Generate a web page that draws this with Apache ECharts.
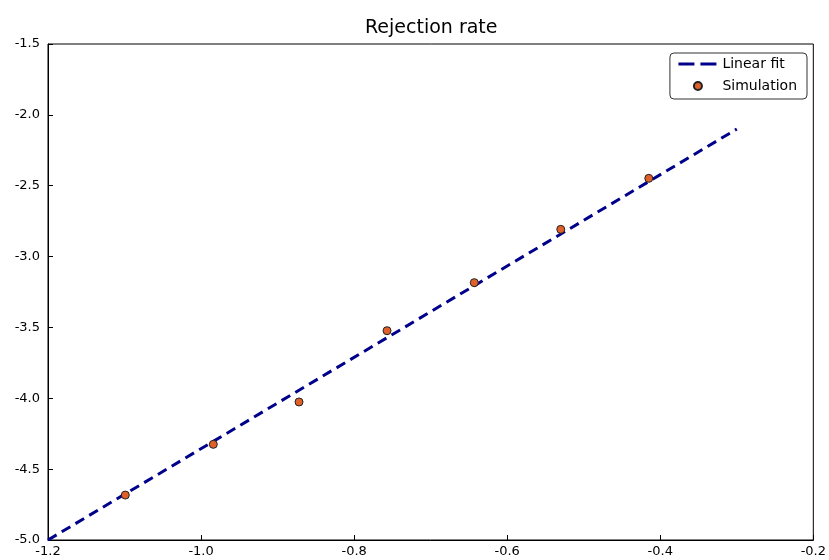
<!DOCTYPE html>
<html>
<head>
<meta charset="utf-8">
<script src="https://cdn.jsdelivr.net/npm/echarts@6/dist/echarts.min.js"></script>
<style>html,body{margin:0;padding:0;background:#fff;}#c{width:829px;height:560px;}</style>
</head>
<body>
<div id="c"></div>
<script>
const simX = [-1.099, -0.984, -0.872, -0.757, -0.643, -0.530, -0.415];
const simY = [-4.683, -4.325, -4.026, -3.523, -3.184, -2.808, -2.448];
const fitX = [-1.2, -0.3];
const fitY = [-5.0, -2.1];

const chart = echarts.init(document.getElementById('c'));
const font = 'DejaVu Sans';
chart.setOption({
  animation: false,
  backgroundColor: '#fff',
  textStyle: {fontFamily: font},
  title: {
    text: 'Rejection rate', left: 360, top: 14,
    textStyle: {fontFamily: font, fontSize: 19, fontWeight: 'normal', color: '#000'}
  },
  grid: {left: 48, right: 15, top: 44, bottom: 20, show: true, borderColor: '#000', borderWidth: 1},
  legend: {
    orient: 'vertical', right: 22, top: 53,
    borderColor: '#333', borderWidth: 1, borderRadius: 4,
    padding: [4, 10, 6, 7], itemGap: 8, itemWidth: 39, itemHeight: 8,
    textStyle: {fontFamily: font, fontSize: 14, color: '#000'},
    data: [
      {name: 'Linear fit', icon: 'inherit',
       itemStyle: {opacity: 0, color: 'transparent', borderColor: 'transparent', borderWidth: 0},
       lineStyle: {width: 3, color: '#00008B', type: [16, 6], opacity: 1}},
      {name: 'Simulation', icon: 'circle'}
    ]
  },
  xAxis: {
    type: 'value', min: -1.2, max: -0.2, interval: 0.2,
    axisLine: {show: true, lineStyle: {color: '#000', width: 1}},
    axisTick: {inside: true, length: 5, lineStyle: {color: '#000'}},
    axisLabel: {margin: 5, fontSize: 13, color: '#000', fontFamily: font, formatter: v => v.toFixed(1)},
    splitLine: {show: false}
  },
  yAxis: {
    type: 'value', min: -5.0, max: -1.5, interval: 0.5,
    axisLine: {show: true, lineStyle: {color: '#000', width: 1}},
    axisTick: {inside: true, length: 5, lineStyle: {color: '#000'}},
    axisLabel: {margin: 8, fontSize: 13, color: '#000', fontFamily: font, formatter: v => v.toFixed(1)},
    splitLine: {show: false}
  },
  series: [
    {
      name: 'Linear fit', type: 'line', symbol: 'none',
      data: fitX.map((x, i) => [x, fitY[i]]),
      lineStyle: {color: '#00008B', width: 3, type: [10, 6]},
      itemStyle: {color: '#00008B'},
      z: 2
    },
    {
      name: 'Simulation', type: 'scatter', symbol: 'circle', symbolSize: 8,
      data: simX.map((x, i) => [x, simY[i]]),
      itemStyle: {color: '#e0602a', borderColor: '#222', borderWidth: 1, opacity: 1},
      z: 3
    }
  ]
});
</script>
</body>
</html>
